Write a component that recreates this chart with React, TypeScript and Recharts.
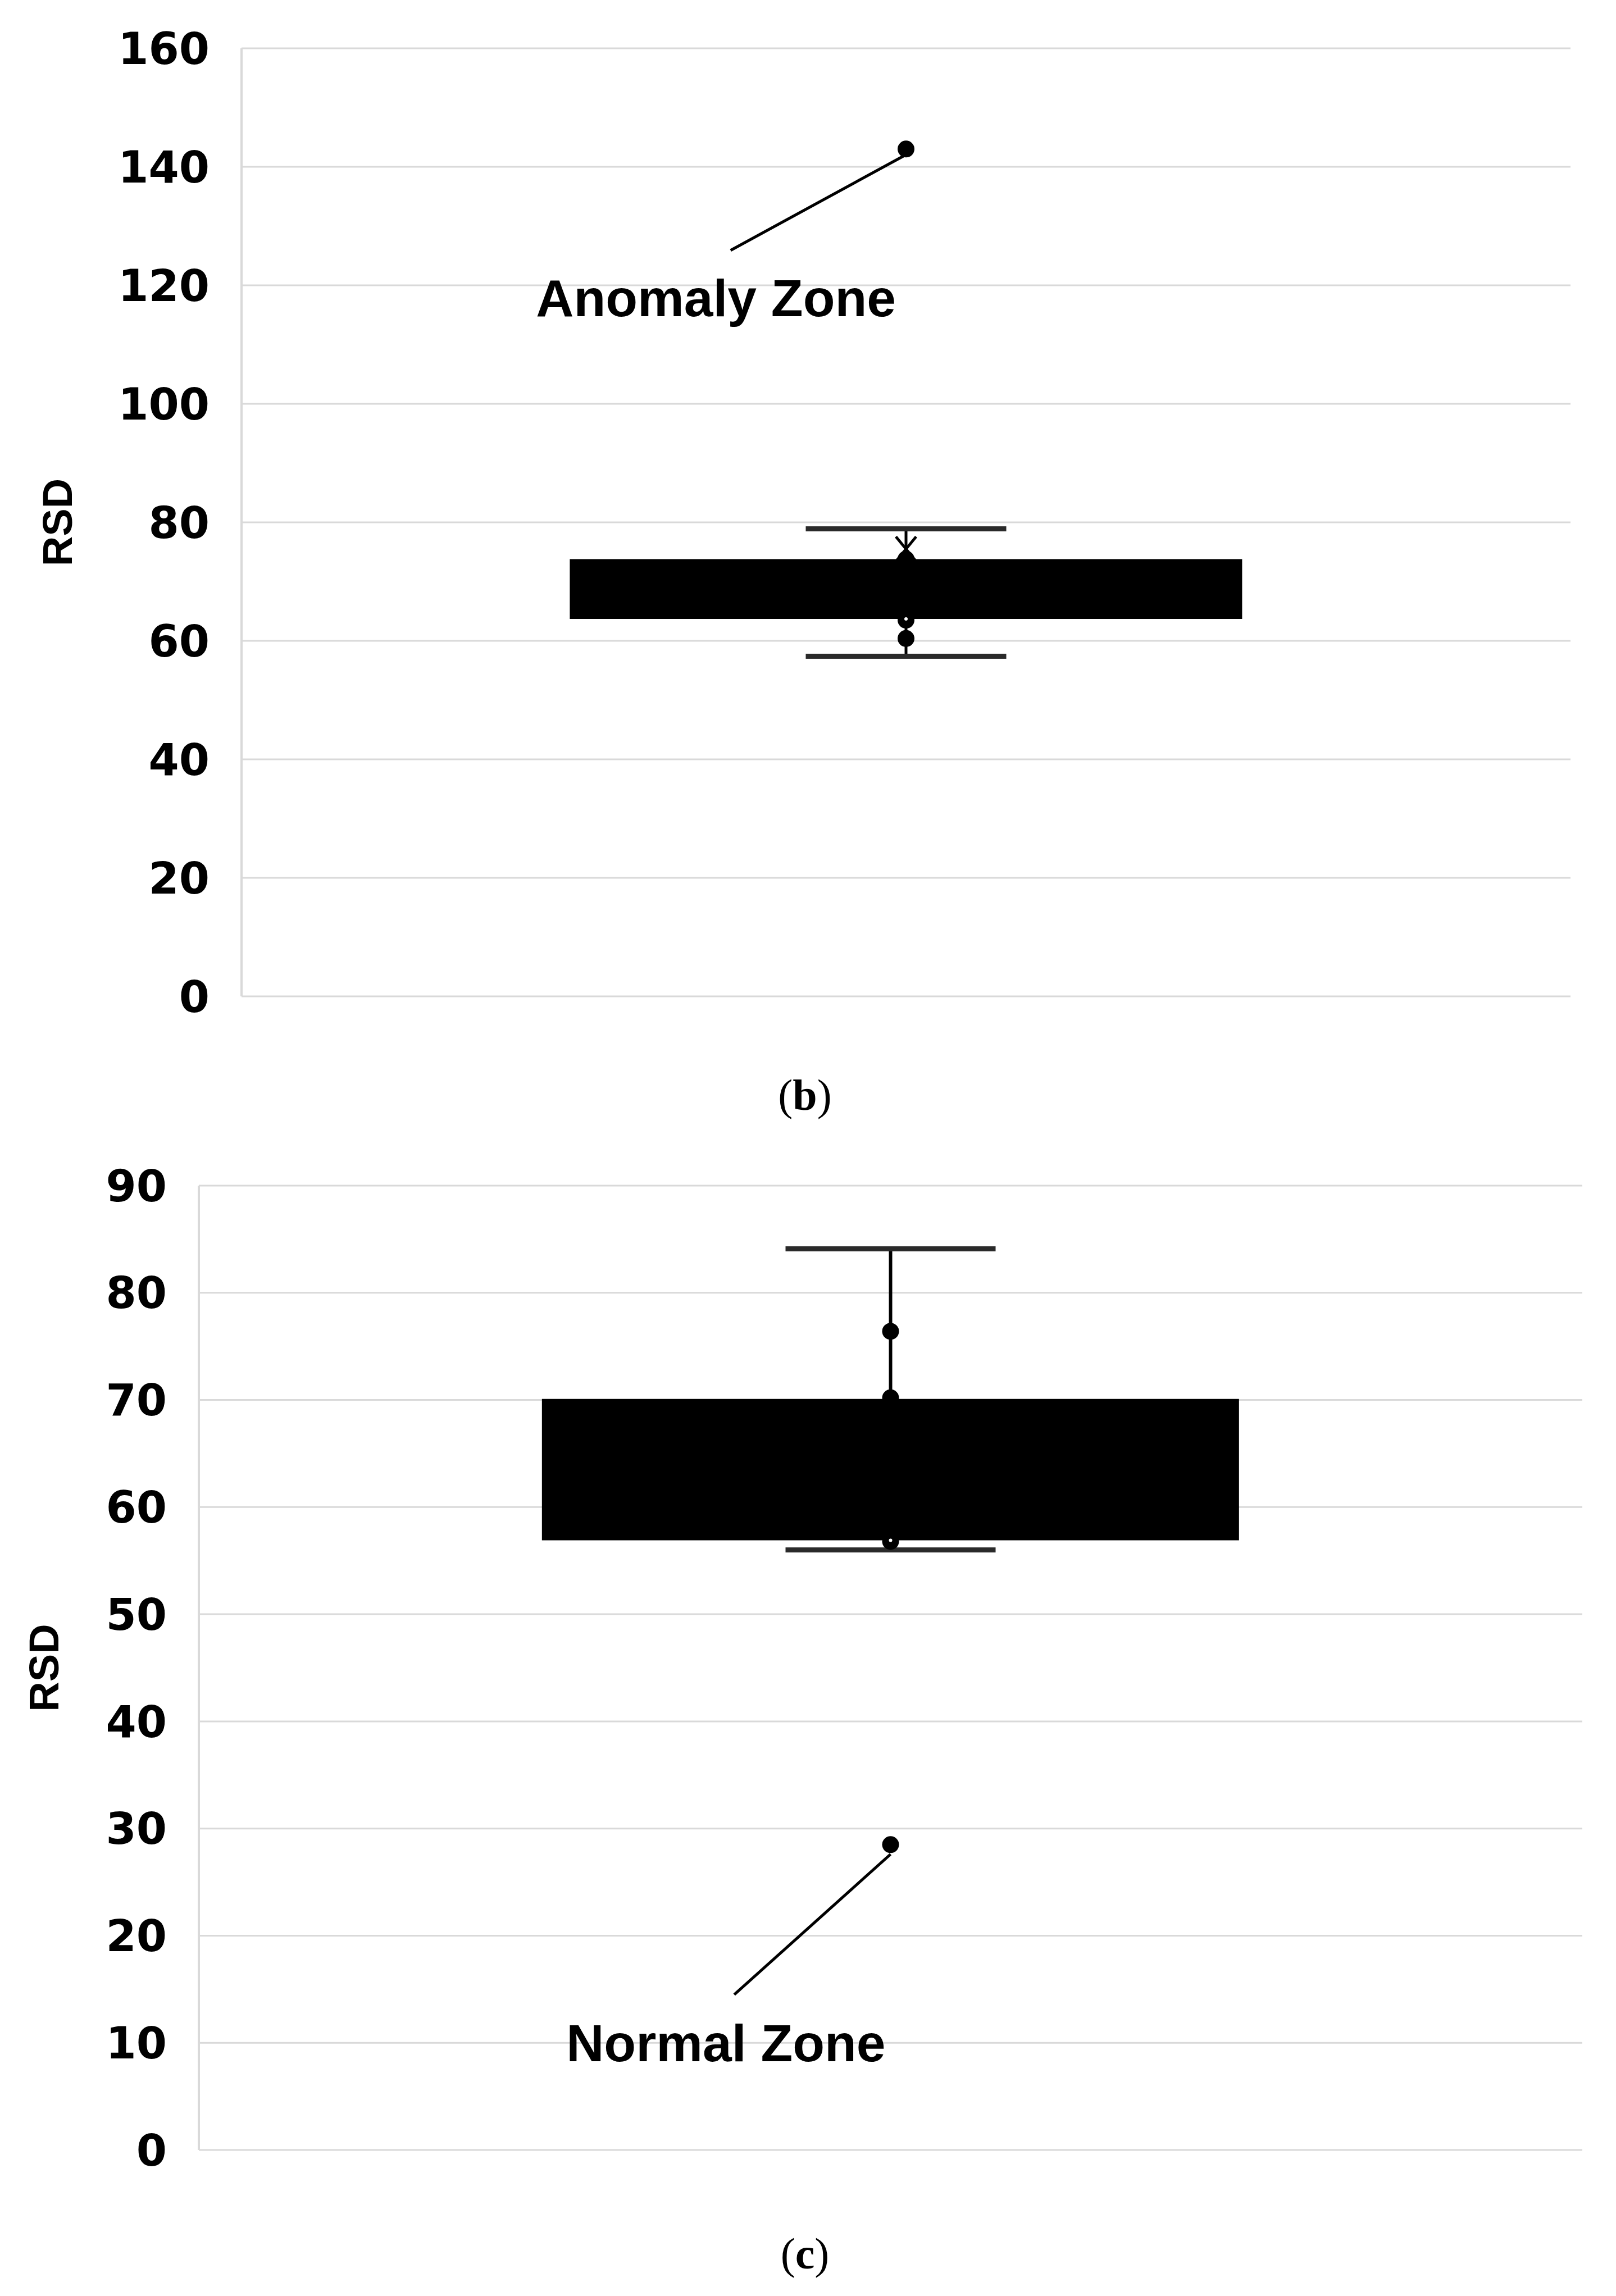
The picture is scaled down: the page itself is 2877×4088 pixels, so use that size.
import React from 'react';
import {
  ComposedChart,
  Bar,
  Line,
  Scatter,
  ErrorBar,
  XAxis,
  YAxis,
  CartesianGrid,
  ReferenceLine,
  ReferenceDot
} from 'recharts';

// panel (b) values
const bTicks = [0, 20, 40, 60, 80, 100, 120, 140, 160];
const bBox = { q1: 63.7, q3: 73.8, low: 57.4, high: 78.9 };
const bMean = [75.5];
const bInnerPoints = [60.4, 63.5, 73.8];
const bOutliers = [143];

// panel (c) values
const cTicks = [0, 10, 20, 30, 40, 50, 60, 70, 80, 90];
const cBox = { q1: 56.9, q3: 70.1, low: 56.0, high: 84.1 };
const cMean: number[] = [];
const cInnerPoints = [76.4, 70.2, 56.8];
const cOutliers = [28.5];

const annotations = ['Anomaly Zone', 'Normal Zone'];
const captions = ['b', 'c'];

const GRID = '#d9d9d9';

interface Stats {
  q1: number;
  q3: number;
  low: number;
  high: number;
}

interface PanelProps {
  top: number;
  height: number;
  margin: { top: number; right: number; bottom: number; left: number };
  axisWidth: number;
  ticks: number[];
  stats: Stats;
  mean: number[];
  inner: number[];
  outliers: number[];
  gap: string;
  capWidth: number;
  whiskerWidth: number;
  note: string;
  leader: { x: number; y: number }[];
  notePos: { x: number; y: number };
  labelX: number;
}

const Dot = (p: any) => <circle cx={p.cx} cy={p.cy} r={15} fill="#000" />;

const Cross = (p: any) => (
  <g stroke="#000" strokeWidth={5}>
    <line x1={p.cx - 18} y1={p.cy - 22} x2={p.cx + 18} y2={p.cy + 22} />
    <line x1={p.cx + 18} y1={p.cy - 22} x2={p.cx - 18} y2={p.cy + 22} />
  </g>
);

function BoxPanel(props: PanelProps) {
  const { stats } = props;
  const data = [
    {
      name: 'RSD',
      base: stats.q1,
      box: stats.q3 - stats.q1,
      q1: stats.q1,
      err: [stats.q1 - stats.low, stats.high - stats.q1]
    }
  ];
  const caps = [stats.low, stats.high].map((y) => ({ x: 0.5, y }));
  const points = [...props.inner, ...props.outliers].map((y) => ({ x: 0.5, y }));
  const means = props.mean.map((y) => ({ x: 0.5, y }));

  const Cap = (p: any) => (
    <rect x={p.cx - props.capWidth / 2} y={p.cy - 4.5} width={props.capWidth} height={9} fill="#2a2a2a" />
  );

  const NoteText = (p: any) => (
    <text
      x={p.cx}
      y={p.cy}
      textAnchor="middle"
      fontFamily="Liberation Sans, Arial, sans-serif"
      fontWeight={700}
      fontSize={93}
      fill="#000"
    >
      {props.note}
    </text>
  );

  const AxisTitle = (p: any) => {
    const vb = p.viewBox;
    const x = vb.x + props.labelX;
    const y = vb.y + vb.height / 2;
    return (
      <text
        x={x}
        y={y}
        transform={`rotate(-90 ${x} ${y})`}
        textAnchor="middle"
        dominantBaseline="central"
        fontFamily="Liberation Sans, Arial, sans-serif"
        fontWeight={700}
        fontSize={74}
        fill="#000"
      >
        RSD
      </text>
    );
  };

  return (
    <div style={{ position: 'absolute', left: 0, top: props.top }}>
      <ComposedChart width={2877} height={props.height} data={data} margin={props.margin} barCategoryGap={props.gap}>
        <CartesianGrid vertical={false} stroke={GRID} strokeWidth={3} />
        <XAxis dataKey="name" type="category" hide />
        <XAxis xAxisId="n" dataKey="x" type="number" domain={[0, 1]} hide />
        <YAxis
          width={props.axisWidth}
          domain={[props.ticks[0], props.ticks[props.ticks.length - 1]]}
          ticks={props.ticks}
          interval={0}
          tickLine={false}
          tickSize={0}
          tickMargin={57}
          axisLine={{ stroke: GRID, strokeWidth: 4 }}
          tick={{ fill: '#000', fontSize: 78, fontWeight: 700, fontFamily: 'DejaVu Sans, Verdana, sans-serif' }}
          label={{ content: AxisTitle }}
        />
        <Bar dataKey="base" stackId="box" fill="transparent" isAnimationActive={false} />
        <Bar dataKey="box" stackId="box" fill="#000" isAnimationActive={false} />
        <Line dataKey="q1" stroke="none" dot={false} activeDot={false} isAnimationActive={false}>
          <ErrorBar
            dataKey="err"
            width={0}
            stroke="#000"
            strokeWidth={props.whiskerWidth}
            direction="y"
            isAnimationActive={false}
          />
        </Line>
        <Scatter xAxisId="n" data={caps} dataKey="y" shape={Cap} isAnimationActive={false} />
        <Scatter xAxisId="n" data={points} dataKey="y" shape={Dot} isAnimationActive={false} />
        {means.length > 0 && (
          <Scatter xAxisId="n" data={means} dataKey="y" shape={Cross} isAnimationActive={false} />
        )}
        <ReferenceLine xAxisId="n" segment={props.leader} stroke="#000" strokeWidth={5} />
        <ReferenceDot xAxisId="n" x={props.notePos.x} y={props.notePos.y} r={0} shape={NoteText} />
      </ComposedChart>
    </div>
  );
}

function Caption({ letter, x, y }: { letter: string; x: number; y: number }) {
  return (
    <div
      style={{
        position: 'absolute',
        left: x,
        top: y,
        transform: 'translate(-50%, -50%)',
        fontFamily: 'Liberation Serif, Times New Roman, serif',
        fontSize: 78,
        lineHeight: 1,
        color: '#000',
        whiteSpace: 'nowrap'
      }}
    >
      (<b>{letter}</b>)
    </div>
  );
}

export default function App() {
  return (
    <div style={{ position: 'absolute', left: 0, top: 0, width: 2877, height: 4088, background: '#fff' }}>
      <BoxPanel
        top={0}
        height={1840}
        margin={{ top: 86, right: 81, bottom: 66, left: 0 }}
        axisWidth={430}
        ticks={bTicks}
        stats={bBox}
        mean={bMean}
        inner={bInnerPoints}
        outliers={bOutliers}
        gap="24.7%"
        capWidth={357}
        whiskerWidth={5}
        note={annotations[0]}
        leader={[
          { x: 0.498, y: 141.8 },
          { x: 0.368, y: 125.9 }
        ]}
        notePos={{ x: 0.357, y: 114.8 }}
        labelX={102}
      />
      <BoxPanel
        top={2000}
        height={1900}
        margin={{ top: 111, right: 60, bottom: 72, left: 0 }}
        axisWidth={354}
        ticks={cTicks}
        stats={cBox}
        mean={cMean}
        inner={cInnerPoints}
        outliers={cOutliers}
        gap="24.8%"
        capWidth={374}
        whiskerWidth={6}
        note={annotations[1]}
        leader={[
          { x: 0.5, y: 27.6 },
          { x: 0.387, y: 14.5 }
        ]}
        notePos={{ x: 0.381, y: 8.3 }}
        labelX={78}
      />
      <Caption letter={captions[0]} x={1433} y={1950} />
      <Caption letter={captions[1]} x={1433} y={4013} />
    </div>
  );
}
